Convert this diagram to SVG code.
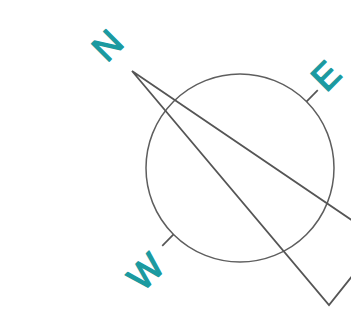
<svg xmlns="http://www.w3.org/2000/svg" width="351" height="320" viewBox="0 0 351 320">
<style>
.lbl{font-family:"Liberation Sans",Arial,sans-serif;font-size:36px;fill:#1b9aa0;stroke:#1b9aa0;stroke-width:1.4;stroke-linejoin:round;text-anchor:middle}
.ln{fill:none;stroke:#555;stroke-width:1.8}
.tick{stroke:#555;stroke-width:1.7}
</style>
<rect width="351" height="320" fill="#fff"/>
<g id="dial">
<circle cx="240" cy="168" r="94" fill="none" stroke="#5e5e5e" stroke-width="1.5"/>
</g>
<g transform="translate(240,168) rotate(-45)">
<g id="tick-e"><line class="tick" x1="94" y1="0" x2="110" y2="0"/></g>
<g id="tick-w"><line class="tick" x1="-94" y1="0" x2="-110" y2="0"/></g>
<g id="label-n"><text class="lbl" x="-7" y="-168">N</text></g>
<g id="label-e"><text class="lbl" x="126" y="8">E</text></g>
<g id="label-w"><text class="lbl" x="-140" y="19">W</text></g>
</g>
<g id="needle">
<polygon class="ln" points="132,71 329,305 381,240" stroke-linejoin="miter"/>
</g>
</svg>
